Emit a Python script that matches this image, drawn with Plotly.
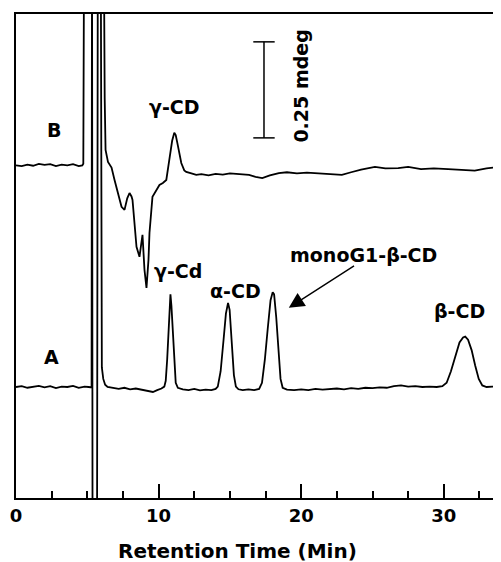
import plotly.graph_objects as go

# ---- Trace A (retention time in min, CD signal in mdeg) ----
time_A = [0.0, 0.4, 0.8, 1.2, 1.6, 2.0, 2.4, 2.8, 3.2, 3.6, 4.0, 4.4, 4.8, 5.1, 5.30,
          5.33, 5.37, 5.68, 5.74, 5.94, 5.97, 6.02, 6.12, 6.25, 6.42,
          6.8, 7.2, 7.6, 8.0, 8.4, 8.8, 9.2, 9.6, 9.9, 10.2, 10.4,
          10.5, 10.6, 10.7, 10.78, 10.83, 10.9, 11.0, 11.1, 11.2, 11.35,
          11.7, 12.1, 12.5, 12.9, 13.3, 13.7, 14.0,
          14.15, 14.35, 14.55, 14.72, 14.87, 14.98, 15.12, 15.28, 15.42, 15.6,
          15.9, 16.3, 16.7, 17.05,
          17.25, 17.45, 17.65, 17.85, 18.0, 18.1, 18.25, 18.4, 18.55, 18.7,
          19.0, 19.5, 20.0, 20.5, 21.0, 21.5, 22.0, 22.5, 23.0, 23.5, 24.0, 24.5,
          25.0, 25.5, 26.0, 26.5, 27.0, 27.5, 28.0, 28.5, 29.0, 29.5, 29.9,
          30.2, 30.5, 30.8, 31.1, 31.35, 31.5, 31.7, 31.95, 32.2, 32.45, 32.7,
          33.0, 33.4, 33.8]
signal_A = [0.289, 0.291, 0.287, 0.290, 0.292, 0.288, 0.291, 0.286, 0.290, 0.289, 0.292, 0.287, 0.290, 0.289, 0.288,
            1.5, -0.2, -0.2, 1.5, 1.5, 0.42, 0.34, 0.31, 0.295, 0.289,
            0.286, 0.284, 0.287, 0.283, 0.285, 0.282, 0.280, 0.276, 0.281, 0.285, 0.290,
            0.305, 0.36, 0.45, 0.515, 0.53, 0.50, 0.42, 0.34, 0.30, 0.287,
            0.283, 0.281, 0.284, 0.280, 0.282, 0.281, 0.284,
            0.29, 0.33, 0.41, 0.48, 0.508, 0.49, 0.41, 0.32, 0.29, 0.283,
            0.281, 0.283, 0.281, 0.284,
            0.30, 0.36, 0.44, 0.515, 0.536, 0.53, 0.47, 0.38, 0.31, 0.287,
            0.282, 0.281, 0.283, 0.281, 0.284, 0.282, 0.283, 0.285, 0.283, 0.286, 0.284, 0.287,
            0.286, 0.288, 0.287, 0.291, 0.293, 0.290, 0.291, 0.289, 0.290, 0.289, 0.291,
            0.30, 0.33, 0.37, 0.405, 0.418, 0.42, 0.412, 0.385, 0.345, 0.31, 0.293,
            0.289, 0.290, 0.289]

# ---- Trace B ----
time_B = [0.0, 0.4, 0.8, 1.2, 1.6, 2.0, 2.4, 2.8, 3.2, 3.6, 4.0, 4.4, 4.65, 4.72, 4.78,
          6.15, 6.22, 6.28, 6.45, 6.7, 6.91, 7.15, 7.40, 7.61, 7.8, 7.96, 8.1, 8.17,
          8.45, 8.66, 8.80, 8.87, 9.01, 9.15, 9.29, 9.36, 9.57, 9.8, 10.06, 10.3, 10.54,
          10.75, 10.95, 11.10, 11.2, 11.31, 11.45, 11.59, 11.8, 11.94, 12.3, 12.64,
          13.0, 13.5, 14.0, 14.5, 15.0, 15.5, 16.0, 16.34, 16.8, 17.27, 17.8, 18.43,
          19.0, 19.7, 20.4, 21.0, 21.7, 22.3, 22.85, 23.5, 24.2, 25.17, 25.9, 26.8,
          27.5, 28.4, 29.3, 30.3, 31.2, 32.17, 33.0, 33.8]
signal_B = [0.866, 0.864, 0.868, 0.865, 0.870, 0.867, 0.869, 0.864, 0.868, 0.866, 0.869, 0.864, 0.866, 0.870, 1.5,
            1.5, 1.04, 0.906, 0.875, 0.860, 0.828, 0.790, 0.758, 0.750, 0.780, 0.794, 0.785, 0.776,
            0.654, 0.628, 0.672, 0.685, 0.594, 0.547, 0.620, 0.690, 0.784, 0.800, 0.815, 0.820, 0.828,
            0.880, 0.930, 0.951, 0.945, 0.925, 0.895, 0.872, 0.853, 0.849, 0.845, 0.841,
            0.843, 0.840, 0.844, 0.842, 0.845, 0.843, 0.841, 0.841, 0.836, 0.833, 0.840, 0.846,
            0.848, 0.845, 0.847, 0.846, 0.843, 0.842, 0.841, 0.848, 0.855, 0.862, 0.858, 0.859,
            0.862, 0.856, 0.858, 0.856, 0.855, 0.852, 0.858, 0.862]

x_tick_vals = [0, 10, 20, 30]
x_tick_text = ["0", "10", "20", "30"]
x_minor_vals = [2.5, 5, 7.5, 12.5, 15, 17.5, 22.5, 25, 27.5, 32.5]

# scale bar (0.25 mdeg)
scale_x = 17.39
scale_top = 1.1875
scale_len = 0.25
scale_cap = 0.75

FONT = "DejaVu Sans"

fig = go.Figure()
fig.add_trace(go.Scatter(x=time_A, y=signal_A, mode="lines",
                         line=dict(color="black", width=1.8), showlegend=False))
fig.add_trace(go.Scatter(x=time_B, y=signal_B, mode="lines",
                         line=dict(color="black", width=1.8), showlegend=False))

# scale bar shapes
fig.add_shape(type="line", x0=scale_x, x1=scale_x, y0=scale_top - scale_len, y1=scale_top,
              line=dict(color="black", width=1.5))
fig.add_shape(type="line", x0=scale_x - scale_cap, x1=scale_x + scale_cap, y0=scale_top, y1=scale_top,
              line=dict(color="black", width=1.5))
fig.add_shape(type="line", x0=scale_x - scale_cap, x1=scale_x + scale_cap,
              y0=scale_top - scale_len, y1=scale_top - scale_len,
              line=dict(color="black", width=1.5))

lab_font = dict(family=FONT, size=19, color="black", weight="bold")
labels = [
    ("B", 2.65, 0.958),
    ("A", 2.51, 0.367),
    ("γ-CD", 11.1, 1.018),
    ("γ-Cd", 11.38, 0.591),
    ("α-CD", 15.36, 0.539),
    ("monoG1-β-CD", 24.4, 0.633),
    ("β-CD", 31.07, 0.487),
]
for txt, xx, yy in labels:
    fig.add_annotation(x=xx, y=yy, text=txt, showarrow=False, font=lab_font,
                       xanchor="center", yanchor="middle")

fig.add_annotation(x=19.97, y=1.073, text="0.25 mdeg", textangle=-90, showarrow=False,
                   font=lab_font, xanchor="center", yanchor="middle")

# arrow to monoG1-β-CD peak
fig.add_annotation(x=19.13, y=0.495, ax=23.81, ay=0.607, axref="x", ayref="y",
                   text="", showarrow=True, arrowhead=2, arrowsize=2.2,
                   arrowwidth=1.4, arrowcolor="black")

# axis title
fig.add_annotation(x=0.459, y=-0.1095, xref="paper", yref="paper",
                   text="Retention Time (Min)", showarrow=False,
                   font=dict(family=FONT, size=20, color="black", weight="bold"),
                   xanchor="center", yanchor="middle")

fig.update_layout(
    width=493, height=554,
    margin=dict(l=8, r=1, t=6, b=64),
    paper_bgcolor="white", plot_bgcolor="white",
    xaxis=dict(range=[0, 33.8], showline=True, mirror=True, linecolor="black", linewidth=2,
               tickmode="array", tickvals=x_tick_vals, ticktext=x_tick_text,
               ticks="inside", ticklen=14, tickwidth=2, tickcolor="black",
               minor=dict(tickmode="array", tickvals=x_minor_vals, ticks="inside",
                          ticklen=7, tickwidth=1.5, tickcolor="black"),
               showgrid=False, zeroline=False,
               tickfont=dict(family=FONT, size=18, color="black", weight="bold")),
    yaxis=dict(range=[0, 1.26], showline=True, mirror=True, linecolor="black", linewidth=2,
               showticklabels=False, ticks="", showgrid=False, zeroline=False),
)

fig.write_html("out.html")
